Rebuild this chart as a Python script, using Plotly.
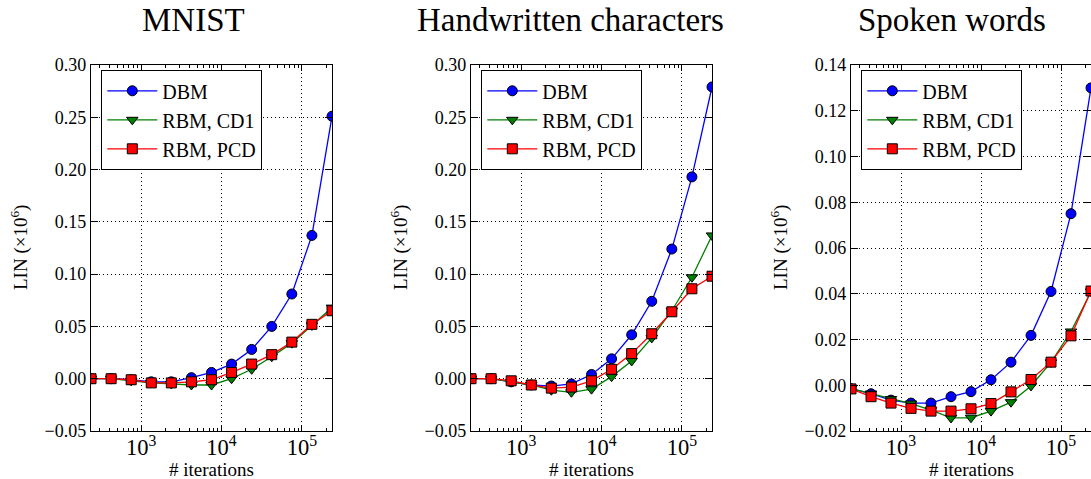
import math
import plotly.graph_objects as go

# ---------------- data ----------------
iterations = [237, 422, 750, 1334, 2371, 4217, 7499, 13335, 23714, 42170, 74989, 133352, 237137]

panel_titles = ["MNIST", "Handwritten characters", "Spoken words"]
series_names = ["DBM", "RBM, CD1", "RBM, PCD"]

mnist_dbm = [0.000, 0.000, -0.001, -0.003, -0.003, 0.001, 0.006, 0.014, 0.028, 0.050, 0.081, 0.137, 0.251]
mnist_cd1 = [0.000, 0.000, -0.002, -0.004, -0.005, -0.006, -0.006, 0.000, 0.009, 0.021, 0.034, 0.051, 0.068]
mnist_pcd = [0.000, 0.000, -0.001, -0.004, -0.004, -0.003, -0.001, 0.006, 0.014, 0.023, 0.035, 0.052, 0.065]

hand_dbm = [0.000, 0.000, -0.003, -0.006, -0.007, -0.005, 0.004, 0.019, 0.042, 0.074, 0.124, 0.193, 0.279]
hand_cd1 = [0.000, 0.000, -0.003, -0.006, -0.011, -0.013, -0.010, 0.002, 0.017, 0.039, 0.065, 0.097, 0.137]
hand_pcd = [0.000, 0.000, -0.002, -0.006, -0.009, -0.008, -0.002, 0.009, 0.024, 0.043, 0.064, 0.086, 0.098]

spoken_dbm = [-0.0015, -0.0037, -0.0065, -0.0078, -0.0078, -0.0050, -0.0028, 0.0024, 0.0101, 0.0218, 0.0410, 0.0750, 0.1300]
spoken_cd1 = [-0.0015, -0.0036, -0.0060, -0.0080, -0.0109, -0.0143, -0.0142, -0.0113, -0.0074, -0.0003, 0.0100, 0.0235, 0.0410]
spoken_pcd = [-0.0016, -0.0050, -0.0078, -0.0101, -0.0113, -0.0113, -0.0103, -0.0080, -0.0029, 0.0025, 0.0101, 0.0216, 0.0412]

y_ranges = [[-0.05, 0.30], [-0.05, 0.30], [-0.02, 0.14]]
y_dticks = [0.05, 0.05, 0.02]

panels = [
    [mnist_dbm, mnist_cd1, mnist_pcd],
    [hand_dbm, hand_cd1, hand_pcd],
    [spoken_dbm, spoken_cd1, spoken_pcd],
]

# ---------------- styling ----------------
W, H = 1091, 479
FONT = "'Liberation Serif', 'DejaVu Serif', 'Times New Roman', serif"
colors = ["#0000ff", "#008000", "#ff0000"]
symbols = ["circle", "triangle-down", "square"]

x_domains_px = [(91, 332), (471, 712), (851, 1091)]
y_top_px, y_bot_px = 65, 431
title_cx_px = [193, 570, 952]
ylabel_cx_px = [20, 400, 780]
legend_x_px = [101, 481, 861]
legend_top_px = 70

fig = go.Figure()

xr = [math.log10(iterations[0]), math.log10(iterations[-1])]

for p in range(3):
    sfx = "" if p == 0 else str(p + 1)
    leg = "legend" if p == 0 else "legend" + str(p + 1)
    for s in range(3):
        fig.add_trace(go.Scatter(
            x=iterations, y=panels[p][s], name=series_names[s],
            xaxis="x" + sfx, yaxis="y" + sfx, legend=leg,
            mode="lines+markers",
            line=dict(color=colors[s], width=1.3),
            marker=dict(symbol=symbols[s], size=10, color=colors[s],
                        line=dict(color="black", width=1)),
        ))

    x0, x1 = x_domains_px[p]
    common_tick = dict(family=FONT, size=18, color="black")
    fig.update_layout(**{
        "xaxis" + sfx: dict(
            type="log", range=xr, domain=[x0 / W, min(x1 / W, 1.0)],
            anchor="y" + sfx, showline=True, linecolor="black", linewidth=1.3,
            mirror="ticks", ticks="inside", ticklen=6, tickwidth=1, tickcolor="black",
            dtick=1, exponentformat="power", tickfont=common_tick,
            ticklabelstandoff=-3,
            showgrid=True, gridcolor="black", gridwidth=1, griddash="1px,3px",
            zeroline=False, automargin=False,
            minor=dict(ticks="inside", ticklen=3, tickwidth=1, tickcolor="black", showgrid=False),
        ),
        "yaxis" + sfx: dict(
            range=y_ranges[p], dtick=y_dticks[p], tick0=0, tickformat=".2f",
            domain=[1 - y_bot_px / H, 1 - y_top_px / H],
            anchor="x" + sfx, showline=True, linecolor="black", linewidth=1.3,
            mirror="ticks", ticks="inside", ticklen=7, tickwidth=1, tickcolor="black",
            tickfont=common_tick, automargin=False,
            showgrid=True, gridcolor="black", gridwidth=1, griddash="1px,3px",
            zeroline=False,
        ),
        leg: dict(
            x=legend_x_px[p] / W, y=1 - legend_top_px / H, xanchor="left", yanchor="top",
            bgcolor="white", bordercolor="black", borderwidth=1.3,
            font=dict(family=FONT, size=20, color="black"),
            itemwidth=50, tracegroupgap=0,
        ),
    })

    fig.add_annotation(text=panel_titles[p], x=title_cx_px[p] / W, y=1 - 20 / H,
                       xref="paper", yref="paper", showarrow=False,
                       xanchor="center", yanchor="middle",
                       font=dict(family=FONT, size=33, color="black"))
    fig.add_annotation(text="LIN (×10<sup>6</sup>)", x=ylabel_cx_px[p] / W, y=1 - 248 / H,
                       xref="paper", yref="paper", showarrow=False, textangle=-90,
                       xanchor="center", yanchor="middle",
                       font=dict(family=FONT, size=19, color="black"))
    fig.add_annotation(text="# iterations", x=((x0 + x1) / 2) / W, y=1 - 469 / H,
                       xref="paper", yref="paper", showarrow=False,
                       xanchor="center", yanchor="middle",
                       font=dict(family=FONT, size=19, color="black"))

fig.update_layout(
    width=W, height=H,
    margin=dict(l=0, r=0, t=0, b=0, pad=0, autoexpand=False),
    paper_bgcolor="white", plot_bgcolor="white",
    showlegend=True,
    font=dict(family=FONT, color="black"),
)

fig.write_html("out.html")
